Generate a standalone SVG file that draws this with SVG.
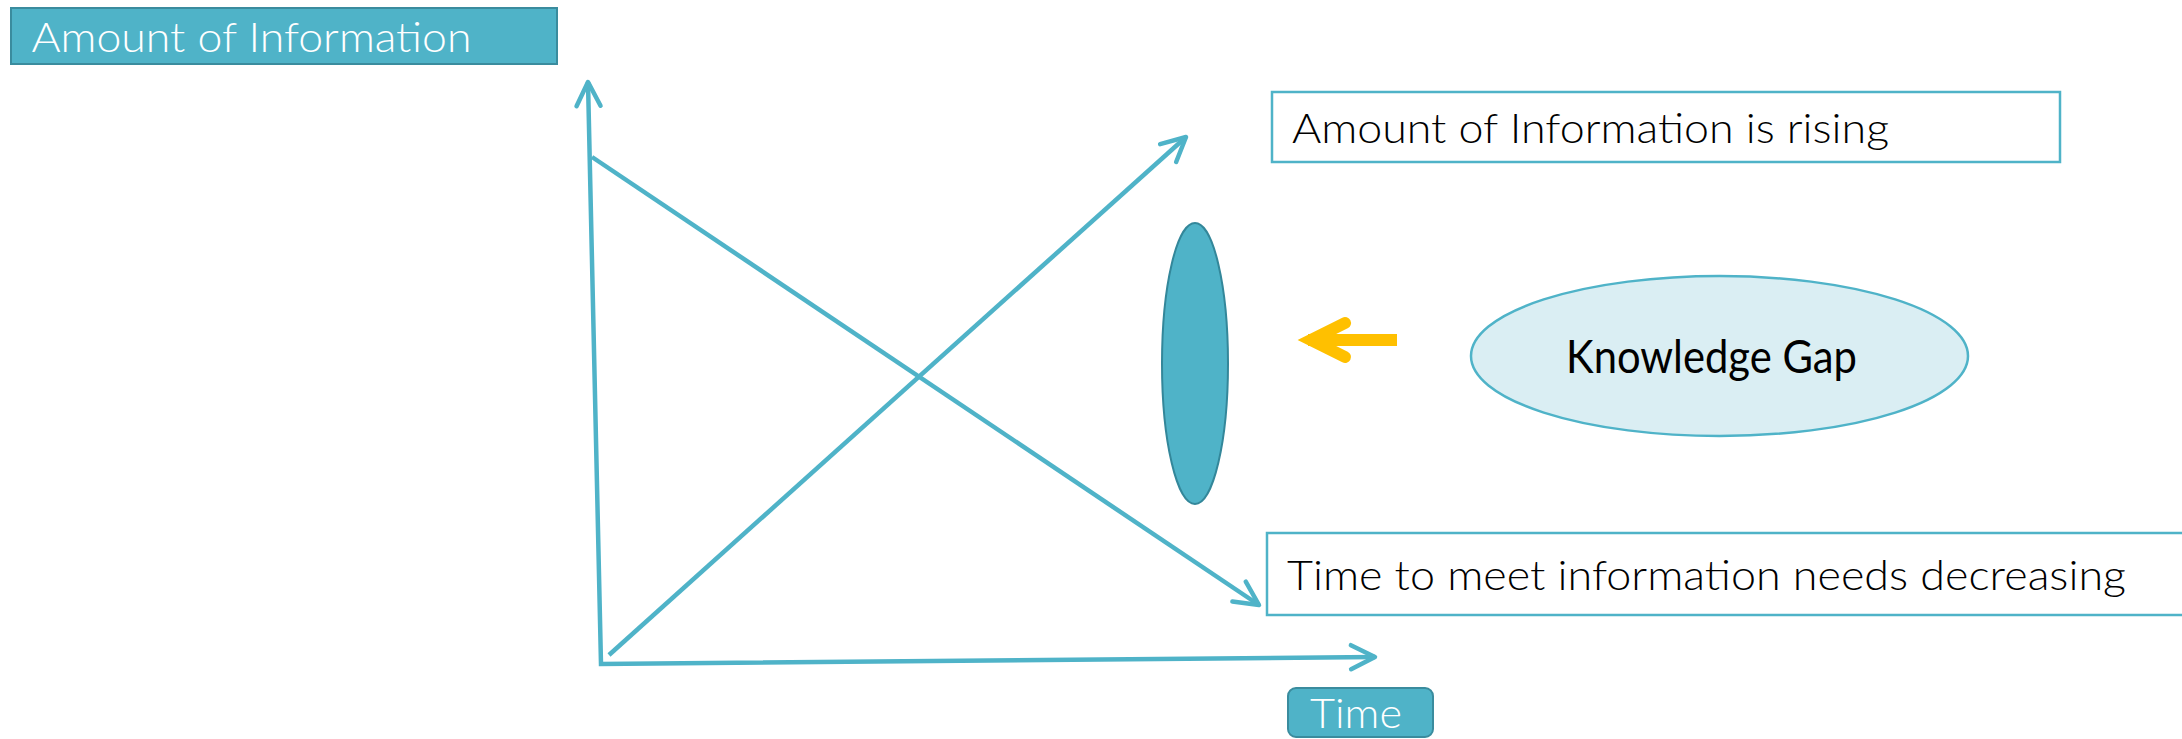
<svg xmlns="http://www.w3.org/2000/svg" width="2182" height="739" viewBox="0 0 2182 739">
<style>
.lt{font-family:Lato,"Open Sans","Liberation Sans",sans-serif;font-weight:300;font-size:42px}
.wt{fill:#ffffff}
.bk{fill:#000000}
.axis{fill:none;stroke:#4FB3C8;stroke-width:4.5;stroke-linejoin:miter}
.box{fill:#ffffff;stroke:#4FB3C8;stroke-width:2.5}
</style>
<defs>
<marker id="chev" markerUnits="userSpaceOnUse" viewBox="-30 -16 34 32" refX="0" refY="0" markerWidth="34" markerHeight="32" orient="auto-start-reverse" overflow="visible">
<path d="M -24 -12 L 0 0 L -24 12" fill="none" stroke="#4FB3C8" stroke-width="4.5" stroke-linecap="round" stroke-linejoin="round"/>
</marker>
</defs>
<rect width="2182" height="739" fill="#ffffff"/>
<g id="connectors">
<path id="axes" class="axis" d="M 588 82 L 601 664 L 1375 657" marker-start="url(#chev)" marker-end="url(#chev)"/>
<line id="rising" class="axis" x1="609" y1="655" x2="1186" y2="137" marker-end="url(#chev)"/>
<line id="decreasing" class="axis" x1="592" y1="157" x2="1259" y2="605" marker-end="url(#chev)"/>
<g id="yellow-arrow">
<line x1="1397" y1="340" x2="1308" y2="340" stroke="#FFC000" stroke-width="12"/>
<path d="M 1345 323 L 1311 340 L 1345 357" fill="none" stroke="#FFC000" stroke-width="12" stroke-linecap="round" stroke-linejoin="miter"/>
</g>
</g>
<g id="title">
<rect x="11" y="8" width="546" height="56" fill="#4FB3C8" stroke="#3A8C9E" stroke-width="2"/>
<text class="lt wt" x="31.5" y="52" font-size="43" textLength="440" lengthAdjust="spacingAndGlyphs">Amount of Information</text>
</g>
<g id="rising-label">
<rect class="box" x="1272" y="92" width="788" height="70"/>
<text class="lt bk" x="1292" y="143" textLength="597" lengthAdjust="spacingAndGlyphs">Amount of Information is rising</text>
</g>
<g id="decreasing-label">
<rect class="box" x="1267" y="533" width="940" height="82"/>
<text class="lt bk" x="1287" y="590" textLength="839" lengthAdjust="spacingAndGlyphs">Time to meet information needs decreasing</text>
</g>
<g id="gap-lens">
<ellipse cx="1195" cy="363.5" rx="33" ry="140.5" fill="#4FB3C8" stroke="#33879A" stroke-width="2"/>
</g>
<g id="knowledge-gap">
<ellipse cx="1719.5" cy="356" rx="248.5" ry="80" fill="#DAEEF3" stroke="#4FB3C8" stroke-width="2.5"/>
<text x="1566" y="373" font-family="Lato,'Open Sans','Liberation Sans',sans-serif" font-size="46" fill="#000000" textLength="291" lengthAdjust="spacingAndGlyphs">Knowledge Gap</text>
</g>
<g id="time-label">
<rect x="1288" y="688" width="145" height="49" rx="8" ry="8" fill="#4FB3C8" stroke="#3A8C9E" stroke-width="2"/>
<text class="lt wt" x="1310" y="728" textLength="92" lengthAdjust="spacingAndGlyphs">Time</text>
</g>
</svg>
